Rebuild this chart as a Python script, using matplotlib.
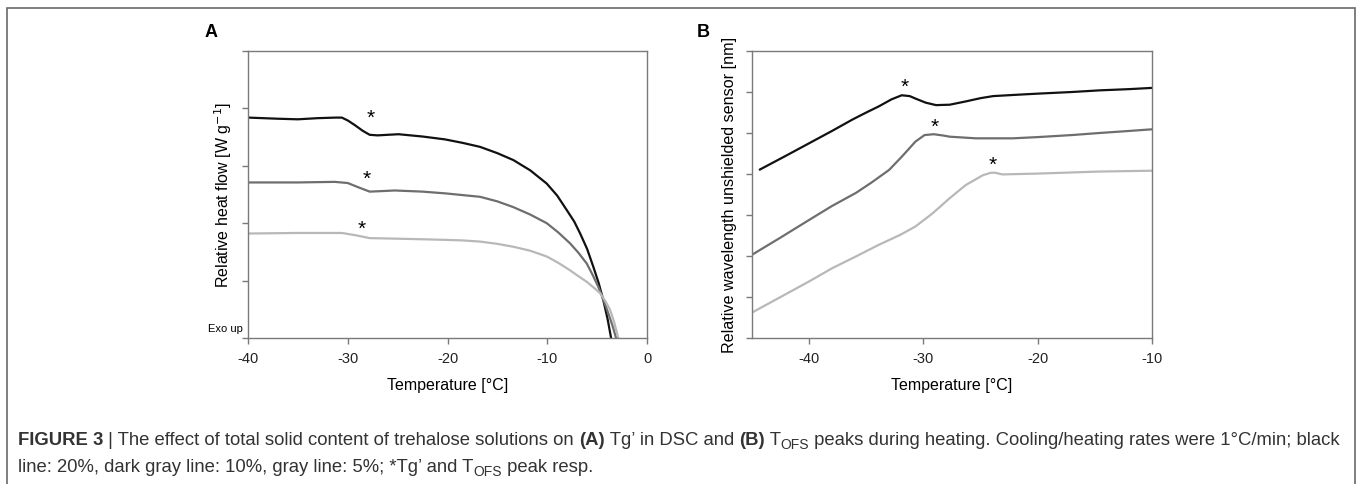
# Figure 3: trehalose DSC (A) and TOFS sensor (B) heating curves

import matplotlib
matplotlib.use("Agg")
import matplotlib.pyplot as plt
from matplotlib.patches import Rectangle

plt.rcParams["font.family"] = ["Liberation Sans", "DejaVu Sans"]
plt.rcParams["axes.unicode_minus"] = False

# ---- panel A: relative heat flow (arbitrary units, 0..5) ----
a_black_t = [-40, -37, -35, -33, -31.2, -30.6, -30.0, -29.3, -28.5, -27.8, -27.0, -26.0, -24.9, -22.5,
             -20.25, -18.5, -16.74, -15, -13.4, -11.7, -10.05, -9, -8.05, -7.3, -6.7, -6, -5.38, -4.85,
             -4.38, -3.95, -3.6, -3.4]
a_black_y = [3.84, 3.82, 3.81, 3.83, 3.84, 3.84, 3.79, 3.71, 3.61, 3.54, 3.53, 3.54, 3.55, 3.51,
             3.46, 3.40, 3.33, 3.22, 3.10, 2.92, 2.69, 2.48, 2.23, 2.03, 1.82, 1.55, 1.24, 0.96,
             0.66, 0.33, 0.0, -0.2]
a_dark_t = [-40, -35, -31.3, -30.0, -29, -27.8, -26.5, -25.3, -22.5, -20.25, -18.5, -16.74, -15, -13.4,
            -11.7, -10.05, -8.9, -7.72, -6.9, -6.05, -5.45, -4.88, -4.38, -3.88, -3.45, -3.1, -2.9]
a_dark_y = [2.71, 2.71, 2.72, 2.70, 2.63, 2.55, 2.56, 2.57, 2.55, 2.52, 2.49, 2.46, 2.38, 2.28,
            2.15, 2.00, 1.84, 1.65, 1.49, 1.30, 1.10, 0.89, 0.67, 0.43, 0.21, 0.0, -0.2]
a_light_t = [-40, -35, -30.6, -29.2, -27.8, -25, -22.5, -20.25, -18.5, -16.74, -15, -13.4, -11.7,
             -10.05, -8.9, -7.72, -6.9, -6.05, -5.35, -4.7, -4.2, -3.7, -3.3, -2.88, -2.7]
a_light_y = [1.82, 1.83, 1.83, 1.79, 1.74, 1.73, 1.72, 1.71, 1.70, 1.68, 1.64, 1.59, 1.52,
             1.42, 1.31, 1.18, 1.08, 0.98, 0.88, 0.78, 0.65, 0.49, 0.28, 0.0, -0.15]
a_stars = [(-27.7, 3.82), (-28.1, 2.76), (-28.6, 1.89)]

# ---- panel B: relative wavelength (arbitrary units, 0..7) ----
b_black_t = [-44.3, -42, -40, -38, -36.2, -35, -33.9, -32.8, -31.9, -31.2, -30.7, -29.8, -28.9,
             -27.7, -26.3, -25, -23.9, -22, -20, -17, -14.6, -12, -10]
b_black_y = [4.11, 4.45, 4.75, 5.05, 5.33, 5.50, 5.65, 5.82, 5.92, 5.90, 5.84, 5.74, 5.68,
             5.69, 5.77, 5.85, 5.90, 5.93, 5.96, 6.00, 6.04, 6.07, 6.10]
b_dark_t = [-45, -42.5, -40, -38, -35.9, -34.5, -33, -31.9, -30.7, -29.9, -29.1, -28.3, -27.7,
            -25.4, -22.2, -20, -17, -14.6, -12, -10]
b_dark_y = [2.03, 2.45, 2.88, 3.22, 3.54, 3.80, 4.10, 4.42, 4.79, 4.95, 4.97, 4.94, 4.91,
            4.87, 4.87, 4.90, 4.95, 5.00, 5.05, 5.09]
b_light_t = [-45, -42.5, -40, -38, -35.9, -34, -32, -30.7, -29.2, -27.7, -26.3, -24.8, -24.1,
             -23.7, -23.1, -20, -14.6, -10]
b_light_y = [0.62, 1.00, 1.38, 1.70, 1.99, 2.26, 2.52, 2.72, 3.04, 3.41, 3.73, 3.97, 4.03,
             4.03, 3.99, 4.01, 4.06, 4.08]
b_stars = [(-31.6, 6.12), (-29.0, 5.15), (-23.9, 4.22)]

colors = ["#111111", "#6e6e6e", "#b8b8b8"]
spine_col = "#7a7a7a"

fig = plt.figure(figsize=(13.57, 4.84), dpi=100)
W, H = 1357, 484

# outer frame
fig.patches.append(Rectangle((7 / W, -0.01), 1348 / W, 1 - 8 / H + 0.01, transform=fig.transFigure,
                             fill=False, edgecolor="#6a6a6a", linewidth=1.2))


def style_axes(ax):
    for s in ax.spines.values():
        s.set_color(spine_col)
        s.set_linewidth(1.0)
    ax.tick_params(direction="out", length=4, width=1, color=spine_col, labelsize=10.5,
                   labelcolor="#222222", pad=6)
    ax.set_yticklabels([])


axA = fig.add_axes([248 / W, 1 - 338 / H, 399 / W, 287 / H])
for t, y, c in zip([a_black_t, a_dark_t, a_light_t], [a_black_y, a_dark_y, a_light_y], colors):
    axA.plot(t, y, color=c, lw=1.6)
for x, y in a_stars:
    axA.text(x, y, "*", fontsize=15, ha="center", va="center")
axA.set_xlim(-40, 0)
axA.set_ylim(0, 5)
axA.set_xticks([-40, -30, -20, -10, 0])
axA.set_yticks([0, 1, 2, 3, 4, 5])
style_axes(axA)
axA.set_xlabel("Temperature [°C]", fontsize=11.5, labelpad=9)
axA.set_ylabel("Relative heat flow [W g$^{-1}$]", fontsize=11.5, labelpad=0)
axA.text(-0.012, 0.03, "Exo up", transform=axA.transAxes, fontsize=8, ha="right", va="center")
fig.text(205 / W, 1 - 33 / H, "A", fontsize=13, fontweight="bold", ha="left", va="center")

axB = fig.add_axes([752 / W, 1 - 338 / H, 400 / W, 287 / H])
for t, y, c in zip([b_black_t, b_dark_t, b_light_t], [b_black_y, b_dark_y, b_light_y], colors):
    axB.plot(t, y, color=c, lw=1.6)
for x, y in b_stars:
    axB.text(x, y, "*", fontsize=15, ha="center", va="center")
axB.set_xlim(-45, -10)
axB.set_ylim(0, 7)
axB.set_xticks([-40, -30, -20, -10])
axB.set_yticks(range(8))
style_axes(axB)
axB.set_xlabel("Temperature [°C]", fontsize=11.5, labelpad=9)
axB.set_ylabel("Relative wavelength unshielded sensor [nm]", fontsize=11.6, labelpad=1)
fig.text(697 / W, 1 - 33 / H, "B", fontsize=13, fontweight="bold", ha="left", va="center")

# caption, written piece by piece so bold and subscripts can mix
renderer = fig.canvas.get_renderer()
cap_size = 13.35


def write_line(x_px, y_px, pieces):
    x = x_px
    for txt, bold, sub in pieces:
        size = cap_size * (0.75 if sub else 1.0)
        yy = y_px + (4 if sub else 0)
        t = fig.text(x / W, 1 - yy / H, txt, fontsize=size, fontweight="bold" if bold else "normal",
                     color="#333333", ha="left", va="baseline")
        x += t.get_window_extent(renderer).width


line1 = [("FIGURE 3", True, False), (" | The effect of total solid content of trehalose solutions on ", False, False),
         ("(A)", True, False), (" Tg’ in DSC and ", False, False), ("(B)", True, False), (" T", False, False),
         ("OFS", False, True), (" peaks during heating. Cooling/heating rates were 1°C/min; black", False, False)]
line2 = [("line: 20%, dark gray line: 10%, gray line: 5%; *Tg’ and T", False, False), ("OFS", False, True),
         (" peak resp.", False, False)]
write_line(18, 445, line1)
write_line(18, 472, line2)

fig.savefig("out.png", dpi=100)
print("Saved plot: out.png")
